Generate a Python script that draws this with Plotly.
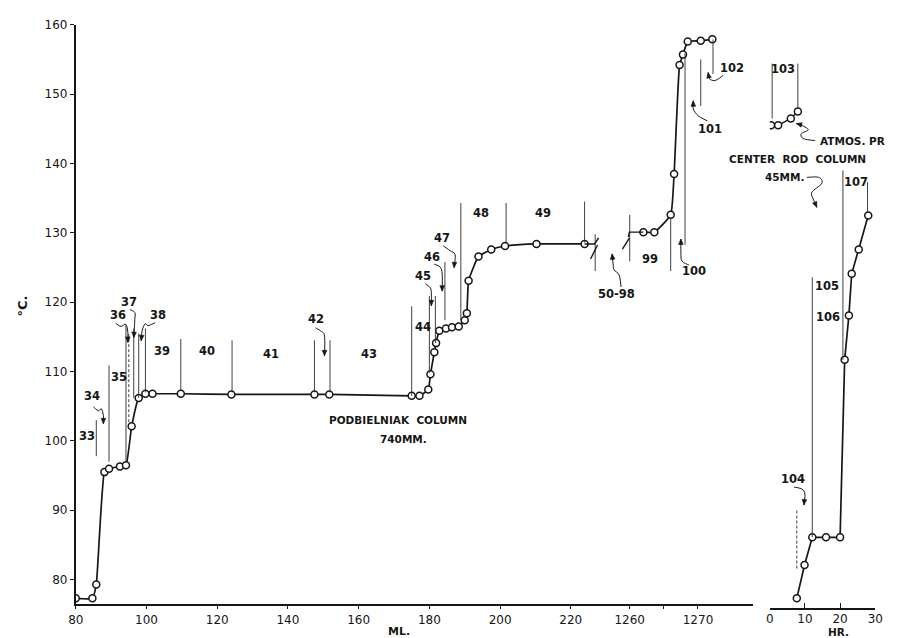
import plotly.graph_objects as go

# ---------------------------------------------------------------- data
# Podbielniak column, 740 mm: volume distilled (ML.) vs head temperature (deg C)
pod_ml = [80.0, 84.7, 85.8, 88.1, 89.4, 92.5, 94.2, 95.8, 97.8, 99.7, 101.7,
          109.7, 124.0, 147.5, 151.7, 175.0, 177.2, 179.7, 180.3, 181.4, 181.9,
          182.8, 184.7, 186.4, 188.3, 190.0, 190.6, 191.1, 193.9, 197.5, 201.4,
          210.3, 223.9]
pod_temp = [77.3, 77.3, 79.3, 95.5, 96.0, 96.3, 96.5, 102.1, 106.2, 106.8, 106.8,
            106.8, 106.7, 106.7, 106.7, 106.5, 106.5, 107.4, 109.6, 112.8, 114.1,
            115.9, 116.2, 116.4, 116.5, 117.4, 118.4, 123.1, 126.6, 127.6, 128.1,
            128.4, 128.4]

# Same column after the break in the volume scale (fractions 99-102)
late_ml = [1262.0, 1263.6, 1266.0, 1266.5, 1267.3, 1267.8, 1268.5, 1270.4, 1272.1]
late_temp = [130.1, 130.1, 132.6, 138.5, 154.2, 155.7, 157.6, 157.7, 157.9]

# Center rod column, 45 mm: time (HR.) vs temperature
rod_hr = [7.7, 9.9, 12.1, 16.0, 20.0, 21.3, 22.5, 23.3, 25.3, 28.0]
rod_temp = [77.3, 82.1, 86.1, 86.1, 86.1, 111.7, 118.1, 124.1, 127.6, 132.5]

# Center rod column at atmospheric pressure
atm_hr = [0.4, 2.4, 6.0, 8.0]
atm_temp = [145.5, 145.5, 146.5, 147.5]

# Fraction cut marks: position, lower and upper temperature of each mark
pod_cut_ml = [85.8, 89.4, 94.2, 95.0, 96.4, 97.8, 99.7, 109.7, 124.2, 147.5,
              151.9, 175.0, 180.0, 181.7, 184.4, 188.9, 201.7, 223.9, 226.9]
pod_cut_lo = [97.8, 97.0, 97.0, 102.7, 106.2, 106.2, 107.0, 107.2, 107.0, 107.0,
              107.0, 106.5, 109.8, 114.1, 117.4, 117.4, 128.4, 128.6, 124.5]
pod_cut_hi = [103.0, 110.9, 116.7, 115.5, 116.2, 115.5, 116.2, 114.7, 114.5, 114.5,
              114.5, 119.4, 120.9, 120.9, 125.8, 134.3, 134.3, 134.5, 129.8]

late_cut_ml = [1260.0, 1266.0, 1268.1, 1270.4, 1272.2]
late_cut_lo = [125.9, 124.5, 128.3, 148.3, 152.9]
late_cut_hi = [132.6, 132.2, 155.9, 155.0, 157.9]

rod_cut_hr = [0.7, 8.0, 7.7, 12.1, 20.8, 27.8]
rod_cut_lo = [146.5, 148.0, 81.6, 86.1, 111.7, 132.9]
rod_cut_hi = [154.4, 154.4, 90.1, 123.6, 139.0, 137.3]

# Fraction numbers
pod_frac = ["33", "34", "35", "36", "37", "38", "39", "40", "41", "42", "43",
            "44", "45", "46", "47", "48", "49"]
late_frac = ["50-98", "99", "100", "101", "102"]
rod_frac = ["103", "104", "105", "106", "107"]

# Axis ticks
temp_ticks = [80, 90, 100, 110, 120, 130, 140, 150, 160]
ml_ticks = [80, 100, 120, 140, 160, 180, 200, 220]
late_ticks = [1260, 1265, 1270]
late_tick_text = ["1260", "", "1270"]
hr_ticks = [0, 10, 20, 30]

# ---------------------------------------------------------------- placement
W, H = 899, 638
INK = "#161616"
FONT = "DejaVu Sans"

# where each fraction number is written (axis units)
pod_frac_x = [83.1, 84.7, 92.2, 91.9, 95.0, 103.3, 104.4, 117.2, 135.3, 147.8,
              162.8, 178.1, 178.3, 180.8, 183.6, 194.7, 212.2]
pod_frac_y = [100.7, 106.5, 109.2, 118.1, 120.1, 118.2, 112.9, 112.9, 112.5,
              117.6, 112.5, 116.4, 123.8, 126.5, 129.3, 132.9, 132.9]
late_frac_x = [1258.0, 1262.9, 1269.4, 1271.8, 1275.0]
late_frac_y = [121.2, 126.3, 124.5, 145.0, 153.7]
rod_frac_x = [3.8, 6.6, 16.3, 16.6, 24.4]
rod_frac_y = [153.6, 94.5, 122.4, 117.9, 137.3]

# wavy leaders from a label to its cut mark, pixel offsets from the label (y down)
leaders = {
    "34": [(1, 11), (6, 15), (9, 13), (11, 20), (11, 28)],
    "36": [(-2, 8), (3, 11), (8, 9), (10, 17), (10, 27)],
    "37": [(1, 8), (6, 11), (6, 18), (5, 36)],
    "38": [(-3, 8), (-10, 11), (-13, 9), (-16, 16), (-17, 26)],
    "42": [(0, 9), (5, 12), (9, 17), (9, 37)],
    "45": [(2, 8), (7, 12), (8, 18), (8, 30)],
    "46": [(2, 7), (8, 10), (10, 17), (10, 34)],
    "47": [(1, 8), (8, 13), (13, 17), (12, 30)],
    "50-98": [(5, -7), (3, -19), (-2, -24), (-3, -30), (-4, -40)],
    "100": [(-5, -6), (-12, -10), (-13, -19), (-13, -32)],
    "101": [(-3, -8), (-12, -13), (-17, -20), (-17, -28)],
    "102": [(-9, 7), (-17, 12), (-23, 10), (-24, 4)],
    "104": [(1, 8), (9, 10), (12, 15), (11, 26)],
}


def smooth_path(pts):
    """Catmull-Rom curve through screen offsets, as a pixel-mode shape path."""
    p = [(x, -y) for x, y in pts]
    d = "M {:.2f},{:.2f}".format(*p[0])
    for i in range(len(p) - 1):
        p0 = p[i - 1] if i > 0 else p[i]
        p1, p2 = p[i], p[i + 1]
        p3 = p[i + 2] if i + 2 < len(p) else p[i + 1]
        c1 = (p1[0] + (p2[0] - p0[0]) / 6, p1[1] + (p2[1] - p0[1]) / 6)
        c2 = (p2[0] - (p3[0] - p1[0]) / 6, p2[1] - (p3[1] - p1[1]) / 6)
        d += " C {:.2f},{:.2f} {:.2f},{:.2f} {:.2f},{:.2f}".format(*c1, *c2, *p2)
    return d


def arrow_head(pts, length=5.5, half=2.3):
    (x0, y0), (x1, y1) = pts[-2], pts[-1]
    dx, dy = x1 - x0, y1 - y0
    n = (dx * dx + dy * dy) ** 0.5 or 1.0
    ux, uy = dx / n, dy / n
    bx, by = x1 - ux * length, y1 - uy * length
    a = (bx - uy * half, by + ux * half)
    b = (bx + uy * half, by - ux * half)
    return "M {:.2f},{:.2f} L {:.2f},{:.2f} L {:.2f},{:.2f} Z".format(
        x1, -y1, a[0], -a[1], b[0], -b[1])


def leader_shapes(xref, ax, ay, pts):
    base = dict(type="path", xref=xref, yref="y", xsizemode="pixel",
                ysizemode="pixel", xanchor=ax, yanchor=ay)
    return [
        dict(base, path=smooth_path(pts), line=dict(color=INK, width=1)),
        dict(base, path=arrow_head(pts), fillcolor=INK, line=dict(color=INK, width=0.6)),
    ]


def polyline(xref, ax, ay, pts, width=1.4):
    d = "M {},{}".format(pts[0][0], -pts[0][1])
    for x, y in pts[1:]:
        d += " L {},{}".format(x, -y)
    return dict(type="path", xref=xref, yref="y", xsizemode="pixel",
                ysizemode="pixel", xanchor=ax, yanchor=ay, path=d,
                line=dict(color=INK, width=width))


# ---------------------------------------------------------------- figure
marker = dict(symbol="circle", size=7, color="white", line=dict(color=INK, width=1.5))

fig = go.Figure()
fig.add_trace(go.Scatter(x=pod_ml, y=pod_temp, xaxis="x", yaxis="y", mode="lines+markers",
                         line=dict(color=INK, width=1.7, shape="spline", smoothing=0.4),
                         marker=marker, hoverinfo="skip"))
fig.add_trace(go.Scatter(x=late_ml, y=late_temp, xaxis="x2", yaxis="y", mode="lines+markers",
                         line=dict(color=INK, width=1.7, shape="spline", smoothing=0.4),
                         marker=marker, hoverinfo="skip"))
fig.add_trace(go.Scatter(x=rod_hr, y=rod_temp, xaxis="x3", yaxis="y", mode="lines+markers",
                         line=dict(color=INK, width=1.7), marker=marker, hoverinfo="skip"))
fig.add_trace(go.Scatter(x=atm_hr, y=atm_temp, xaxis="x3", yaxis="y", mode="lines+markers",
                         line=dict(color=INK, width=1.5), marker=marker, hoverinfo="skip"))

shapes = []
dashed = {("x", 95.0), ("x3", 7.7)}
for xref, xs, lo, hi in (("x", pod_cut_ml, pod_cut_lo, pod_cut_hi),
                         ("x2", late_cut_ml, late_cut_lo, late_cut_hi),
                         ("x3", rod_cut_hr, rod_cut_lo, rod_cut_hi)):
    for c, a, b in zip(xs, lo, hi):
        shapes.append(dict(type="line", xref=xref, yref="y", x0=c, x1=c, y0=a, y1=b,
                           line=dict(color="#2a2a2a", width=0.9,
                                     dash="3px,2px" if (xref, c) in dashed else "solid")))

# break in the volume scale
shapes.append(polyline("x", pod_ml[-1], pod_temp[-1], [(0, 0), (10, 0), (14, -6)]))
shapes.append(polyline("x", pod_ml[-1], pod_temp[-1], [(13, 1), (6, 15)]))
shapes.append(polyline("x2", late_ml[0], late_temp[0], [(0, 0), (-14, 0), (-15, 5)]))
shapes.append(polyline("x2", late_ml[0], late_temp[0], [(-14, 6), (-21, 17)]))

annotations = []
lab_font = dict(family=FONT, size=11.5, color=INK, weight="bold")
for xref, names, xs, ys in (("x", pod_frac, pod_frac_x, pod_frac_y),
                            ("x2", late_frac, late_frac_x, late_frac_y),
                            ("x3", rod_frac, rod_frac_x, rod_frac_y)):
    for name, x, y in zip(names, xs, ys):
        annotations.append(dict(x=x, y=y, xref=xref, yref="y", text=name, showarrow=False,
                                font=lab_font, xanchor="center", yanchor="middle"))
        if name in leaders:
            shapes.extend(leader_shapes(xref, x, y, leaders[name]))

note_font = dict(family=FONT, size=10.5, color=INK, weight="bold")
notes = [
    ("x", 171.2, 103.0, "PODBIELNIAK\u00a0\u00a0COLUMN", "center"),
    ("x", 172.8, 100.3, "740MM.", "center"),
    ("x3", 7.9, 140.6, "CENTER\u00a0\u00a0ROD\u00a0\u00a0COLUMN", "center"),
    ("x3", 4.3, 138.0, "45MM.", "center"),
    ("x3", 13.8, 143.3, "ATMOS.\u00a0PR", "left"),
]
for xref, x, y, text, anchor in notes:
    annotations.append(dict(x=x, y=y, xref=xref, yref="y", text=text, showarrow=False,
                            font=note_font, xanchor=anchor, yanchor="middle"))

shapes.extend(leader_shapes("x3", 13.8, 143.3,
                            [(-3, 0), (-15, -2), (-17, -7), (-10, -11), (-18, -16), (-22, -17)]))
shapes.extend(leader_shapes("x3", 4.3, 138.0,
                            [(22, 0), (34, 0), (37, 6), (27, 15), (29, 23), (32, 30)]))

# axis titles
title_font = dict(family=FONT, size=11, color=INK, weight="bold")
annotations.append(dict(x=398 / W, y=1 - 631 / H, xref="paper", yref="paper", text="ML.",
                        xanchor="center", yanchor="middle", showarrow=False, font=title_font))
annotations.append(dict(x=846 / W, y=1 - 632 / H, xref="paper", yref="paper", text="HR.",
                        xanchor="center", yanchor="middle", showarrow=False,
                        font=dict(title_font, size=10.5)))
annotations.append(dict(x=15 / W, y=1 - 302 / H, xref="paper", yref="paper", text="°C.",
                        xanchor="center", yanchor="middle", textangle=-90, showarrow=False,
                        font=dict(family=FONT, size=13, color=INK, weight="bold")))

tick_font = dict(family=FONT, size=12, color=INK)
y_lo = 76.43
fig.update_layout(
    width=W, height=H,
    margin=dict(l=0, r=0, t=0, b=0),
    paper_bgcolor="white", plot_bgcolor="rgba(0,0,0,0)",
    showlegend=False,
    shapes=shapes, annotations=annotations,
    yaxis=dict(domain=[1 - 604 / H, 1 - 18 / H], range=[y_lo, 160], anchor="x",
               showline=True, linecolor=INK, linewidth=1.8, showgrid=False, zeroline=False,
               ticks="outside", ticklen=4, tickwidth=1.2, tickcolor=INK,
               tickvals=temp_ticks, tickfont=tick_font),
    xaxis=dict(domain=[69 / W, 605 / W], range=[80, 80 + 536 / 3.6], anchor="y",
               showline=True, linecolor=INK, linewidth=1.6, showgrid=False, zeroline=False,
               ticks="outside", ticklen=3, tickwidth=1, tickcolor=INK,
               tickvals=ml_ticks, tickfont=tick_font),
    xaxis2=dict(domain=[605 / W, 758 / W], range=[1260 - 28 / 6.95, 1260 + 125 / 6.95],
                anchor="y", showline=True, linecolor=INK, linewidth=1.6, showgrid=False,
                zeroline=False, ticks="outside", ticklen=3, tickwidth=1, tickcolor=INK,
                tickvals=late_ticks, ticktext=late_tick_text, tickfont=tick_font),
    xaxis3=dict(domain=[775.5 / W, 883 / W], range=[0, 30], anchor="free",
                position=1 - 609 / H, showline=True, linecolor=INK, linewidth=1.6,
                showgrid=False, zeroline=False, ticks="inside", ticklen=6, tickwidth=1.2,
                tickcolor=INK, tickvals=hr_ticks, tickfont=tick_font, ticklabelstandoff=-2),
)

fig.write_html("out.html")
